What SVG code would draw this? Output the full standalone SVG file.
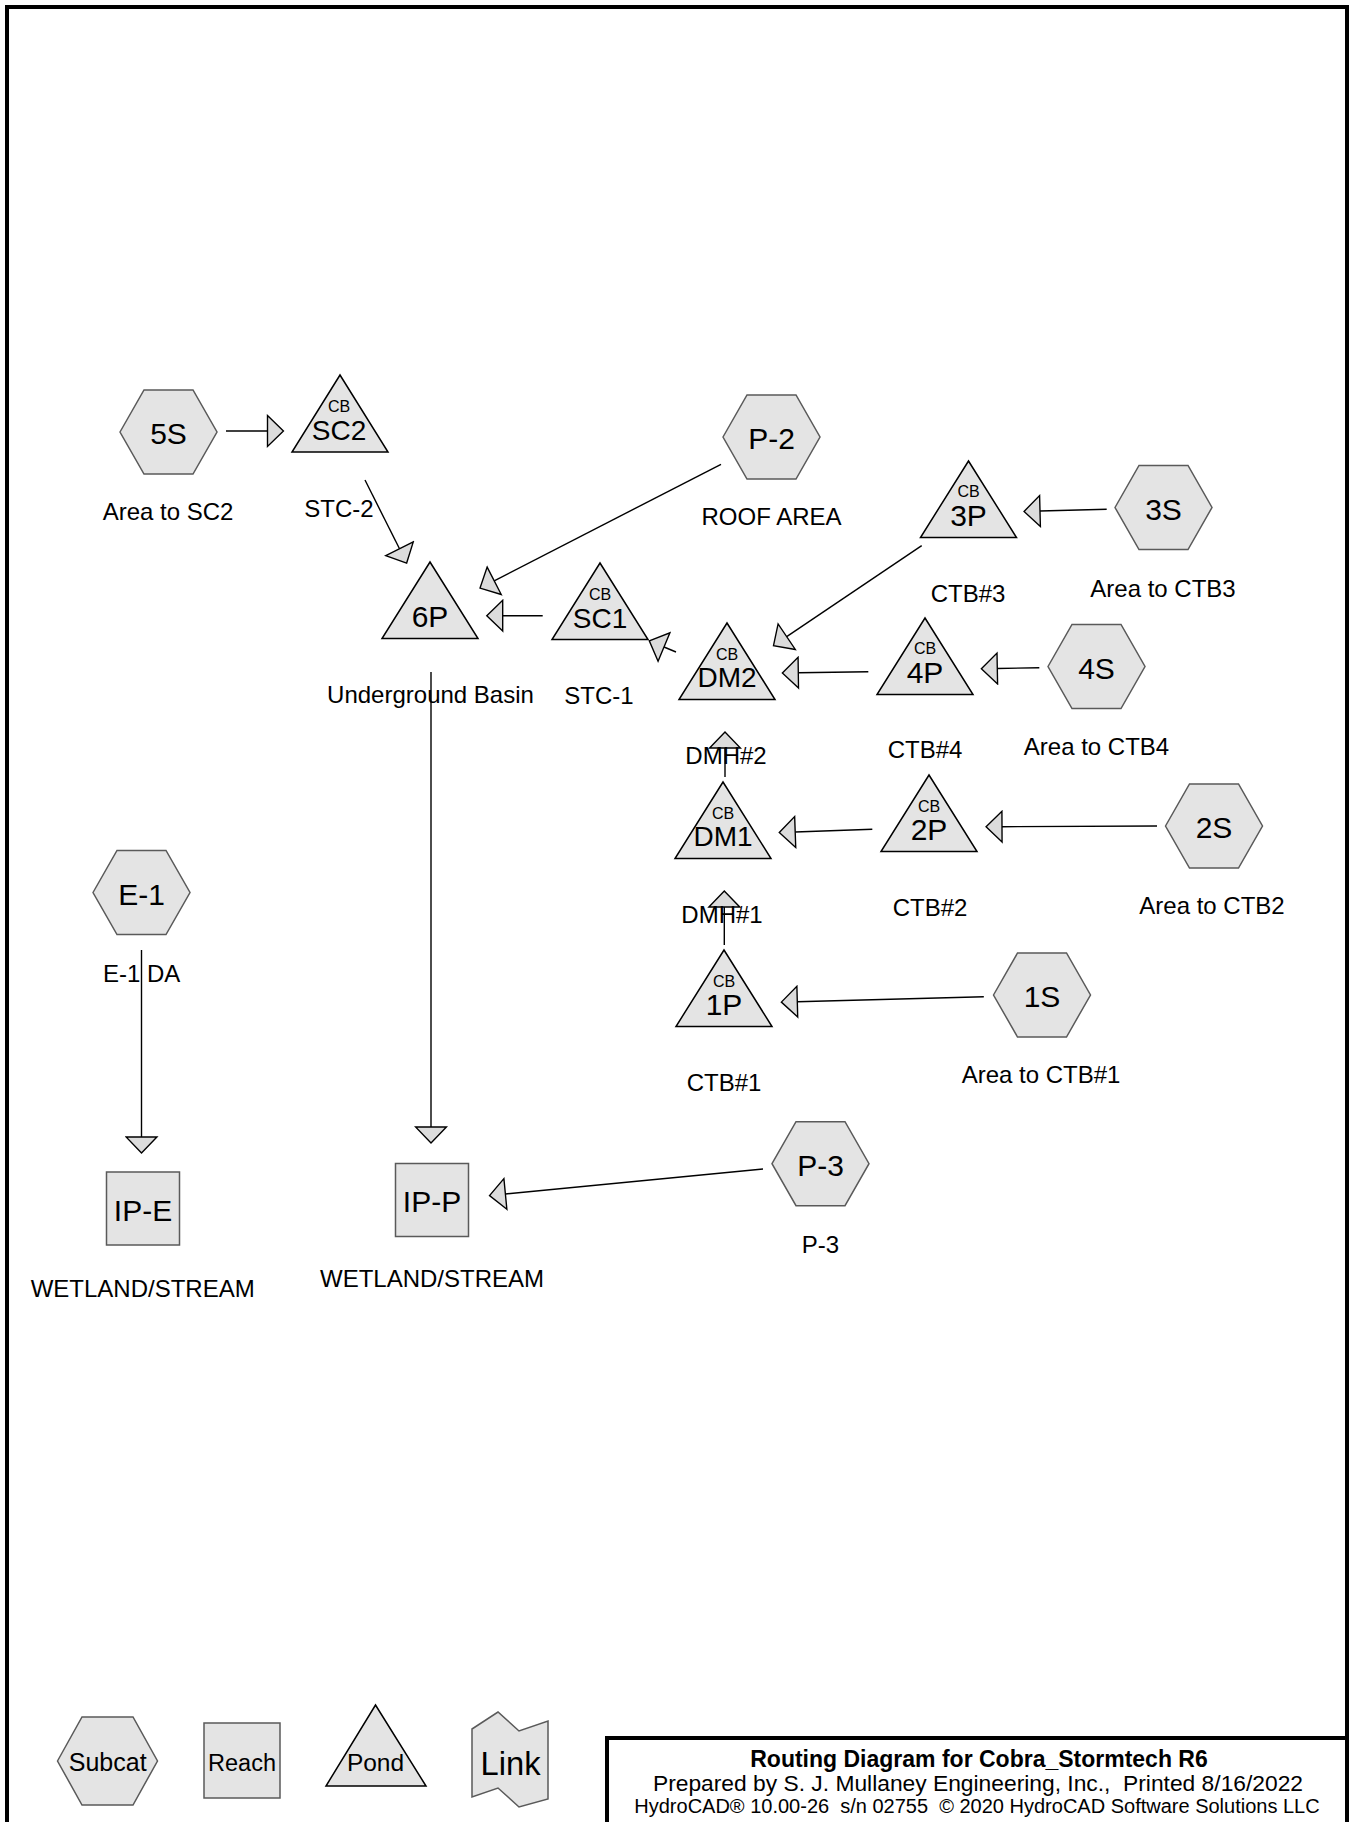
<svg xmlns="http://www.w3.org/2000/svg" width="1350" height="1822" viewBox="0 0 1350 1822">
<defs>
<style>
text{font-family:"Liberation Sans",Arial,sans-serif;fill:#000;text-anchor:middle}
.hex{fill:#e4e4e4;stroke:#5a5a5a;stroke-width:1.5}
.pond{fill:#e4e4e4;stroke:#000;stroke-width:1.5}
.reach{fill:#e4e4e4;stroke:#5a5a5a;stroke-width:1.5}
.lbl{font-size:24px}
.nm{font-size:30px}
.nm3{font-size:28px}
.cb{font-size:16px}
.pre{white-space:pre}
.conn line{stroke:#000;stroke-width:1.4;fill:none;marker-end:url(#ah)}
</style>
<marker id="ah" markerUnits="userSpaceOnUse" markerWidth="20" markerHeight="34" viewBox="-1 -16 18 32" refX="0" refY="0" orient="auto">
<path d="M0,-14.5 L15,0 L0,14.5 Z" fill="#dcdcdc" stroke="#000" stroke-width="1.3"/>
</marker>
</defs>
<rect x="0" y="0" width="1350" height="1822" fill="#fff"/>
<rect x="7" y="7" width="1340" height="1830" fill="none" stroke="#000" stroke-width="4"/>

<g id="connectors" class="conn">
<line x1="226" y1="431" x2="267.5" y2="431"/>
<line x1="365" y1="480" x2="399.5" y2="548.8"/>
<line x1="721" y1="464.3" x2="494.2" y2="580.8"/>
<line x1="542.7" y1="615.7" x2="502.7" y2="615.7"/>
<line x1="676" y1="652" x2="664" y2="647"/>
<line x1="921.7" y1="545.7" x2="786.7" y2="636.7"/>
<line x1="1106.7" y1="509.3" x2="1040" y2="511"/>
<line x1="868.3" y1="671.7" x2="798.3" y2="672.7"/>
<line x1="1039.3" y1="667.7" x2="997.3" y2="668.5"/>
<line x1="725" y1="777" x2="725" y2="748"/>
<line x1="872.3" y1="829.3" x2="795.2" y2="832"/>
<line x1="1157" y1="826" x2="1002" y2="826.7"/>
<line x1="724.3" y1="945" x2="724.3" y2="907"/>
<line x1="983.8" y1="996.7" x2="797.3" y2="1001.7"/>
<line x1="431" y1="672" x2="431" y2="1127"/>
<line x1="141.5" y1="950" x2="141.5" y2="1137"/>
<line x1="763" y1="1169" x2="505.4" y2="1194"/>
</g>

<g id="node-5S">
<polygon class="hex" points="120,432 144,390 193,390 217,432 193,474 144,474"/>
<text class="nm" x="168.5" y="444">5S</text>
<text class="lbl" x="168" y="520">Area to SC2</text>
</g>
<g id="node-SC2">
<polygon class="pond" points="340,375 388,452 292,452"/>
<text class="cb" x="339" y="412">CB</text>
<text class="nm3" x="339" y="440">SC2</text>
<text class="lbl" x="339" y="517">STC-2</text>
</g>
<g id="node-P-2">
<polygon class="hex" points="723,437 747,395 796,395 820,437 796,479 747,479"/>
<text class="nm" x="771.5" y="449">P-2</text>
<text class="lbl" x="771.5" y="525">ROOF AREA</text>
</g>
<g id="node-6P">
<polygon class="pond" points="430,562 478,638.5 382,638.5"/>
<text class="nm" x="430" y="627">6P</text>
<text class="lbl" x="430.5" y="703">Underground Basin</text>
</g>
<g id="node-SC1">
<polygon class="pond" points="600,563 648,639.5 552,639.5"/>
<text class="cb" x="600" y="600">CB</text>
<text class="nm3" x="600" y="628">SC1</text>
<text class="lbl" x="599" y="704">STC-1</text>
</g>
<g id="node-3P">
<polygon class="pond" points="968.5,461 1016.5,537.5 920.5,537.5"/>
<text class="cb" x="968.5" y="497">CB</text>
<text class="nm" x="968.5" y="526">3P</text>
<text class="lbl" x="968" y="602">CTB#3</text>
</g>
<g id="node-3S">
<polygon class="hex" points="1115,507.5 1139,465.5 1188,465.5 1212,507.5 1188,549.5 1139,549.5"/>
<text class="nm" x="1163.5" y="519.5">3S</text>
<text class="lbl" x="1163" y="597">Area to CTB3</text>
</g>
<g id="node-DM2">
<polygon class="pond" points="727,623 775,699.5 679,699.5"/>
<text class="cb" x="727" y="660">CB</text>
<text class="nm3" x="727" y="687">DM2</text>
<text class="lbl" x="726" y="764">DMH#2</text>
</g>
<g id="node-4P">
<polygon class="pond" points="925,618 973,694.5 877,694.5"/>
<text class="cb" x="925" y="654">CB</text>
<text class="nm" x="925" y="683">4P</text>
<text class="lbl" x="925" y="758">CTB#4</text>
</g>
<g id="node-4S">
<polygon class="hex" points="1048,666.5 1072,624.5 1121,624.5 1145,666.5 1121,708.5 1072,708.5"/>
<text class="nm" x="1096.5" y="678.5">4S</text>
<text class="lbl" x="1096.5" y="755">Area to CTB4</text>
</g>
<g id="node-DM1">
<polygon class="pond" points="723,782 771,858.5 675,858.5"/>
<text class="cb" x="723" y="819">CB</text>
<text class="nm3" x="723" y="846">DM1</text>
<text class="lbl" x="722" y="923">DMH#1</text>
</g>
<g id="node-2P">
<polygon class="pond" points="929,775 977,851.5 881,851.5"/>
<text class="cb" x="929" y="812">CB</text>
<text class="nm" x="929" y="840">2P</text>
<text class="lbl" x="930" y="916">CTB#2</text>
</g>
<g id="node-2S">
<polygon class="hex" points="1165.5,826 1189.5,784 1238.5,784 1262.5,826 1238.5,868 1189.5,868"/>
<text class="nm" x="1214" y="838">2S</text>
<text class="lbl" x="1212" y="914">Area to CTB2</text>
</g>
<g id="node-1P">
<polygon class="pond" points="724,950 772,1026.5 676,1026.5"/>
<text class="cb" x="724" y="987">CB</text>
<text class="nm" x="724" y="1015">1P</text>
<text class="lbl" x="724" y="1091">CTB#1</text>
</g>
<g id="node-1S">
<polygon class="hex" points="993.5,995 1017.5,953 1066.5,953 1090.5,995 1066.5,1037 1017.5,1037"/>
<text class="nm" x="1042" y="1007">1S</text>
<text class="lbl" x="1041" y="1083">Area to CTB#1</text>
</g>
<g id="node-E-1">
<polygon class="hex" points="93,892.5 117,850.5 166,850.5 190,892.5 166,934.5 117,934.5"/>
<text class="nm" x="141.5" y="904.5">E-1</text>
<text class="lbl" x="141.6" y="982">E-1 DA</text>
</g>
<g id="node-IP-E">
<rect class="reach" x="106.5" y="1172" width="73" height="73"/>
<text class="nm" x="143" y="1221">IP-E</text>
<text class="lbl" x="142.7" y="1297">WETLAND/STREAM</text>
</g>
<g id="node-IP-P">
<rect class="reach" x="395.5" y="1163.5" width="73" height="73"/>
<text class="nm" x="432" y="1212">IP-P</text>
<text class="lbl" x="432" y="1287">WETLAND/STREAM</text>
</g>
<g id="node-P-3">
<polygon class="hex" points="772,1163.7 796,1121.7 845,1121.7 869,1163.7 845,1205.7 796,1205.7"/>
<text class="nm" x="820.5" y="1176">P-3</text>
<text class="lbl" x="820.5" y="1253">P-3</text>
</g>

<g id="legend">
<g id="legend-subcat">
<polygon class="hex" points="57.5,1761 82,1717 133,1717 157.5,1761 133,1805 82,1805"/>
<text x="107.7" y="1771" style="font-size:25px">Subcat</text>
</g>
<g id="legend-reach">
<rect class="reach" x="204" y="1723" width="76" height="75"/>
<text x="242" y="1771" style="font-size:23.5px">Reach</text>
</g>
<g id="legend-pond">
<polygon class="pond" points="375.5,1705 426,1786 326,1786"/>
<text x="375.5" y="1771" style="font-size:24.5px">Pond</text>
</g>
<g id="legend-link">
<polygon class="hex" points="472,1729 498,1712 519,1731 548,1721 548,1799 519,1807 498,1788 472,1797"/>
<text x="510.5" y="1775" style="font-size:34px" textLength="60" lengthAdjust="spacingAndGlyphs">Link</text>
</g>
</g>

<g id="title-block">
<rect x="607" y="1738" width="740" height="100" fill="#fff" stroke="#000" stroke-width="4"/>
<text x="979" y="1767" style="font-size:23px;font-weight:bold">Routing Diagram for Cobra_Stormtech R6</text>
<text class="pre" x="978" y="1791" style="font-size:22.8px" xml:space="preserve">Prepared by S. J. Mullaney Engineering, Inc.,  Printed 8/16/2022</text>
<text class="pre" x="977" y="1813" style="font-size:20px" xml:space="preserve">HydroCAD® 10.00-26  s/n 02755  © 2020 HydroCAD Software Solutions LLC</text>
</g>
</svg>
